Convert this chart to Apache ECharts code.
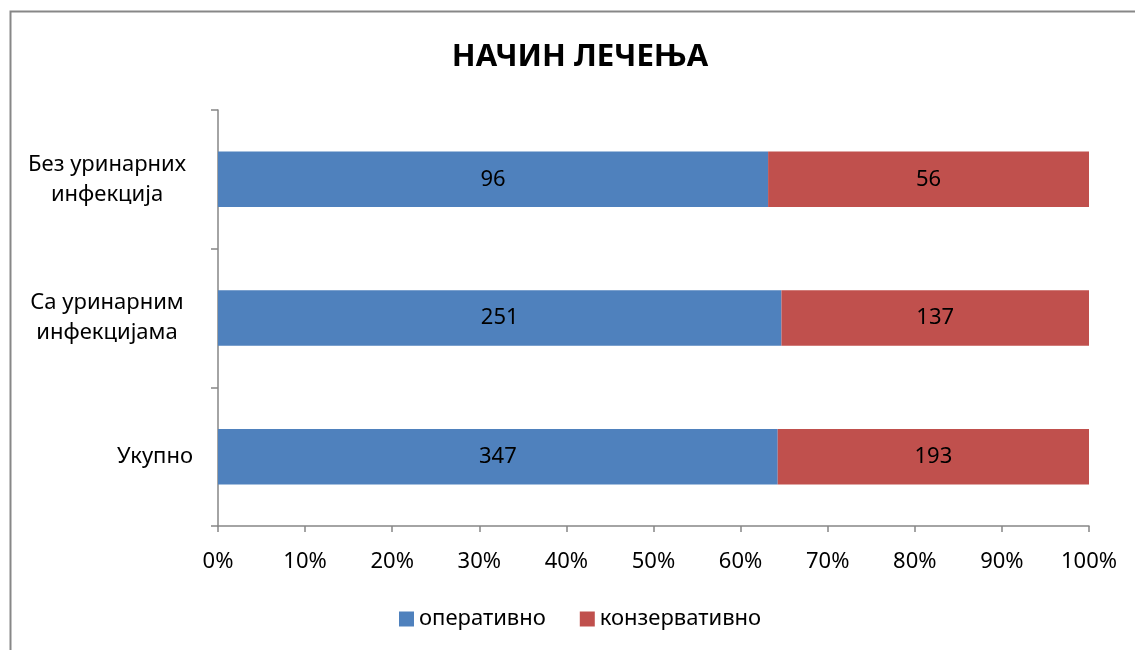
<!DOCTYPE html>
<html>
<head>
<meta charset="utf-8">
<script src="https://cdn.jsdelivr.net/npm/echarts@6/dist/echarts.min.js"></script>
<style>
  html, body { margin: 0; padding: 0; background: #fff; }
  #chart { width: 1135px; height: 650px; }
</style>
</head>
<body>
<div id="chart"></div>
<script>
  // categories, bottom to top (category y axis grows upward)
  const categories = ['Укупно', 'Са уринарним\nинфекцијама', 'Без уринарних\nинфекција']
  const operativno = [347, 251, 96]
  const konzervativno = [193, 137, 56]
  const seriesNames = ['оперативно', 'конзервативно']
  const xTicks = [0, 10, 20, 30, 40, 50, 60, 70, 80, 90, 100]

  const FONT = 'Noto Sans'
  const totals = operativno.map((v, i) => v + konzervativno[i])
  const pct = arr => arr.map((v, i) => v / totals[i] * 100)
  const raw = [operativno, konzervativno]

  const chart = echarts.init(document.getElementById('chart'))

  function barSeries(k, color) {
    return {
      name: seriesNames[k],
      type: 'bar',
      stack: 'all',
      barCategoryGap: '60%',
      data: pct(raw[k]),
      itemStyle: { color: color },
      label: {
        show: true,
        position: 'inside',
        color: '#000',
        fontFamily: FONT,
        fontSize: 22,
        formatter: p => raw[k][p.dataIndex]
      }
    }
  }

  chart.setOption({
    animation: false,
    title: {
      text: 'НАЧИН ЛЕЧЕЊА',
      left: 575,
      top: 37,
      textAlign: 'center',
      textStyle: { fontFamily: FONT, fontSize: 31, fontWeight: 'bold', color: '#000' }
    },
    graphic: [{
      type: 'rect',
      shape: { x: 10.5, y: 11.5, width: 1140, height: 660 },
      style: { fill: 'none', stroke: '#878787', lineWidth: 2 },
      silent: true
    }],
    legend: {
      left: 394,
      top: 603,
      itemWidth: 15,
      itemHeight: 15,
      itemGap: 34,
      icon: 'rect',
      textStyle: { fontFamily: FONT, fontSize: 22, color: '#000' },
      data: seriesNames
    },
    grid: { left: 218, right: 46, top: 110, bottom: 124, containLabel: false },
    xAxis: {
      type: 'value',
      min: 0,
      max: 100,
      interval: 10,
      axisLine: { show: true, lineStyle: { color: '#868686', width: 1.5 } },
      axisTick: { show: true, length: 6, lineStyle: { color: '#868686', width: 1.5 } },
      splitLine: { show: false },
      axisLabel: {
        color: '#000',
        fontFamily: FONT,
        fontSize: 22,
        margin: 25,
        formatter: v => xTicks.includes(v) ? v + '%' : ''
      }
    },
    yAxis: {
      type: 'category',
      data: categories,
      axisLine: { show: true, lineStyle: { color: '#868686', width: 1.5 } },
      axisTick: { show: true, length: 7, lineStyle: { color: '#868686', width: 1.5 } },
      axisLabel: {
        color: '#000',
        fontFamily: FONT,
        fontSize: 22,
        margin: 25,
        align: 'right',
        lineHeight: 30,
        formatter: v => {
          const lines = v.split('\n')
          if (lines.length < 2) return v
          return lines.map(l => '{c|' + l + '}').join('\n')
        },
        rich: {
          c: { width: 172, align: 'center', fontFamily: FONT, fontSize: 22, color: '#000', lineHeight: 30 }
        }
      }
    },
    series: [
      barSeries(0, '#4F81BD'),
      barSeries(1, '#C0504D')
    ]
  })
</script>
</body>
</html>
